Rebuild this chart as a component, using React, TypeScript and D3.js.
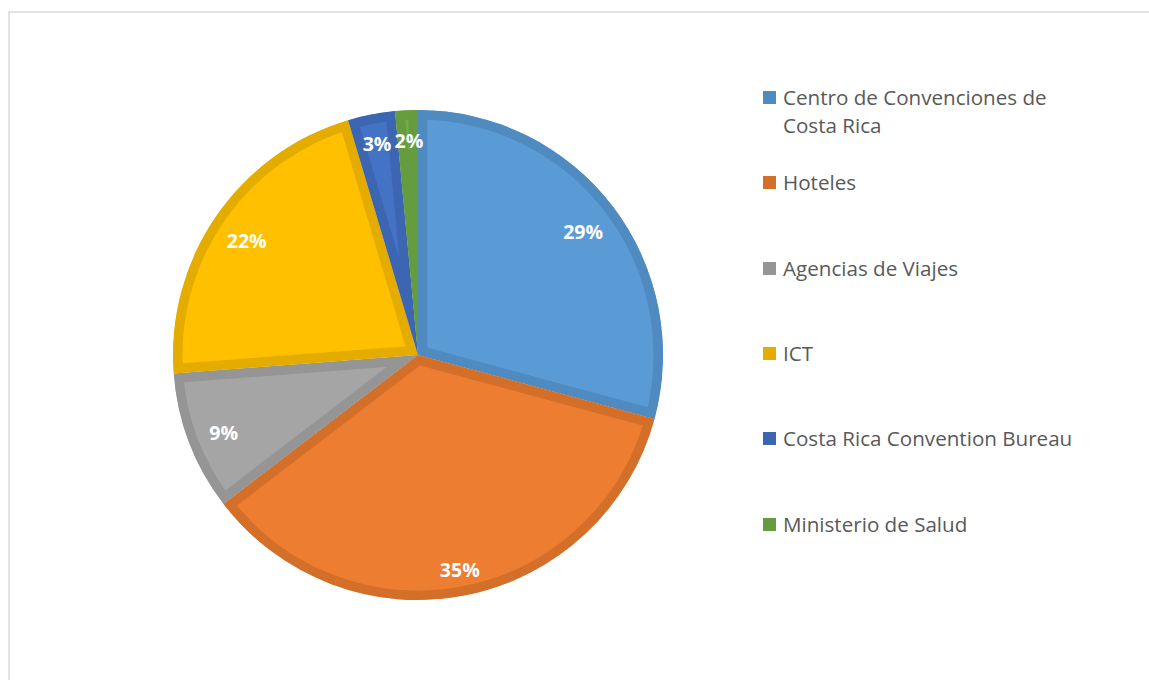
import React, { useEffect, useRef } from "react";
import * as d3 from "d3";

// categories and shares (percent)
const categories = [
  "Centro de Convenciones de Costa Rica",
  "Hoteles",
  "Agencias de Viajes",
  "ICT",
  "Costa Rica Convention Bureau",
  "Ministerio de Salud",
];
const shares = [29.2, 35.4, 9.2, 21.6, 3.1, 1.5];
const fills = ["#5B9BD5", "#ED7D31", "#A5A5A5", "#FFC000", "#4472C4", "#70AD47"];
const borders = ["#4F8AC1", "#D46F2A", "#959595", "#E5AC00", "#3C66B2", "#659C3F"];
// legend labels split in lines like the original
const legendLines = [
  ["Centro de Convenciones de", "Costa Rica"],
  ["Hoteles"],
  ["Agencias de Viajes"],
  ["ICT"],
  ["Costa Rica Convention Bureau"],
  ["Ministerio de Salud"],
];

type Slice = { v: number; i: number };

export default function App() {
  const ref = useRef<SVGSVGElement>(null);

  useEffect(() => {
    const svg = d3.select(ref.current);
    svg.selectAll("*").remove();

    const width = 1149;
    const height = 680;
    svg.attr("width", width).attr("height", height);

    // chart frame
    svg
      .append("rect")
      .attr("x", 9)
      .attr("y", 12)
      .attr("width", 1160)
      .attr("height", 700)
      .attr("fill", "#fff")
      .attr("stroke", "#d9d9d9")
      .attr("stroke-width", 1.5);

    const cx = 418;
    const cy = 355;
    const r = 245;

    const data: Slice[] = shares.map((v, i) => ({ v, i }));
    const pie = d3
      .pie<Slice>()
      .value((d) => d.v)
      .sort(null);
    const arcs = pie(data);
    const arc = d3.arc<d3.PieArcDatum<Slice>>().innerRadius(0).outerRadius(r);

    const g = svg.append("g").attr("transform", `translate(${cx},${cy})`);
    const defs = svg.append("defs");

    // slices: light fill with a darker inner band, clipped to the wedge
    arcs.forEach((a, k) => {
      const id = "clip" + k;
      defs.append("clipPath").attr("id", id).append("path").attr("d", arc(a) as string);
      g.append("path")
        .attr("d", arc(a) as string)
        .attr("fill", fills[a.data.i])
        .attr("stroke", borders[a.data.i])
        .attr("stroke-width", 19)
        .attr("clip-path", `url(#${id})`);
    });

    // data labels
    arcs.forEach((a) => {
      const small = a.data.v < 5;
      let lr = small ? 215 : 208;
      if (a.data.i === 1) lr = 216;
      const mid = (a.startAngle + a.endAngle) / 2;
      let x = Math.sin(mid) * lr;
      const y = -Math.cos(mid) * lr + (small ? 0 : 3);
      if (a.data.i === 5) x += 1;
      g.append("text")
        .attr("x", x)
        .attr("y", y)
        .attr("text-anchor", "middle")
        .attr("dominant-baseline", "central")
        .attr("font-family", "'Open Sans', sans-serif")
        .attr("font-weight", "bold")
        .attr("font-size", 19.5)
        .attr("fill", "#fff")
        .text(`${Math.round(a.data.v)}%`);
    });

    // legend
    const rowY = [97, 182, 268, 353, 438, 524];
    const leg = svg.append("g");
    categories.forEach((c, i) => {
      const row = leg
        .append("g")
        .attr("transform", `translate(763,${rowY[i]})`)
        .attr("aria-label", c);
      row
        .append("rect")
        .attr("x", 0)
        .attr("y", -6)
        .attr("width", 13)
        .attr("height", 13)
        .attr("fill", borders[i]);
      legendLines[i].forEach((line, j) => {
        row
          .append("text")
          .attr("x", 20)
          .attr("y", j * 28)
          .attr("dominant-baseline", "central")
          .attr("font-family", "'Open Sans', sans-serif")
          .attr("font-size", 20.6)
          .attr("fill", "#595959")
          .text(line);
      });
    });
  }, []);

  return (
    <div style={{ position: "absolute", left: 0, top: 0 }}>
      <svg ref={ref} style={{ display: "block" }} />
    </div>
  );
}
